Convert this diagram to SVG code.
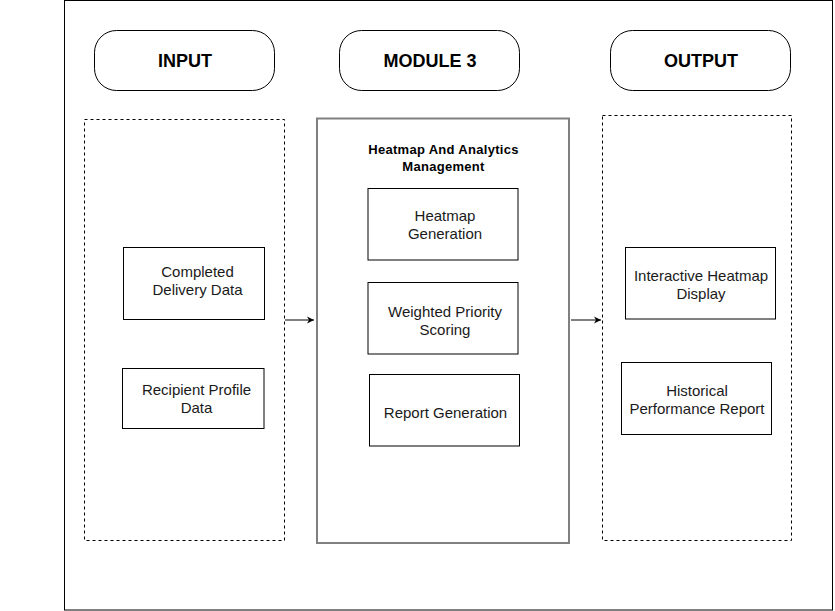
<svg xmlns="http://www.w3.org/2000/svg" width="835" height="611" viewBox="0 0 835 611">
<style>
.hdr{fill:#fff;stroke:#000;stroke-width:1}
.box{fill:#fff;stroke:#000;stroke-width:1}
.dash{fill:none;stroke:#000;stroke-width:1;stroke-dasharray:3 3}
.ht{font-family:"Liberation Sans",Arial,sans-serif;font-size:18px;font-weight:bold;text-anchor:middle;fill:#000}
.t{font-family:"Liberation Sans",Arial,sans-serif;font-size:15px;text-anchor:middle;fill:#1a1a1a}
.bt{font-family:"Liberation Sans",Arial,sans-serif;font-size:13px;letter-spacing:0.3px;font-weight:bold;text-anchor:middle;fill:#000}
.edge{fill:none;stroke:#000;stroke-width:1}
</style>
<defs>
<marker id="arr" markerWidth="8" markerHeight="8" refX="7" refY="4" orient="auto" markerUnits="userSpaceOnUse">
<path d="M0,0.5 L7,4 L0,7.5 L2,4 Z" fill="#000"/>
</marker>
</defs>
<rect width="835" height="611" fill="#fff"/>
<rect id="frame" x="64.5" y="0.5" width="768" height="609.5" fill="none" stroke="#000" stroke-width="1"/>
<g id="input-header"><rect class="hdr" x="94.5" y="30.5" width="180" height="60" rx="22"/><text class="ht" x="185" y="67">INPUT</text></g>
<g id="module-header"><rect class="hdr" x="339.5" y="30.5" width="180" height="60" rx="22"/><text class="ht" x="430" y="67">MODULE 3</text></g>
<g id="output-header"><rect class="hdr" x="610.5" y="30.5" width="180" height="60" rx="22"/><text class="ht" x="701" y="67">OUTPUT</text></g>
<g id="input-group"><rect class="dash" x="84.5" y="119.5" width="200" height="421"/></g>
<g id="module-group"><rect x="317" y="118.5" width="252" height="424.5" fill="#fff" stroke="#808080" stroke-width="2"/>
<text class="bt" x="443.5" y="154">Heatmap And Analytics</text><text class="bt" x="443.5" y="171">Management</text></g>
<g id="output-group"><rect class="dash" x="602.5" y="115.5" width="189" height="425"/></g>
<g id="completed-delivery"><rect class="box" x="123.5" y="247.5" width="141" height="72"/><text class="t" x="197.5" y="277">Completed</text><text class="t" x="197.5" y="295">Delivery Data</text></g>
<g id="recipient-profile"><rect class="box" x="122.5" y="368.5" width="141.5" height="60"/><text class="t" x="196.5" y="395">Recipient Profile</text><text class="t" x="196.5" y="413">Data</text></g>
<g id="heatmap-generation"><rect class="box" x="368" y="188.5" width="150" height="71.5"/><text class="t" x="445" y="221">Heatmap</text><text class="t" x="445" y="239">Generation</text></g>
<g id="weighted-priority"><rect class="box" x="368" y="282.5" width="150" height="71.5"/><text class="t" x="445" y="317">Weighted Priority</text><text class="t" x="445" y="335">Scoring</text></g>
<g id="report-generation"><rect class="box" x="369.5" y="374.5" width="150" height="71.5"/><text class="t" x="445.5" y="418">Report Generation</text></g>
<g id="interactive-heatmap"><rect class="box" x="625.5" y="247.5" width="150" height="71.5"/><text class="t" x="701" y="281">Interactive Heatmap</text><text class="t" x="701" y="299">Display</text></g>
<g id="historical-report"><rect class="box" x="621.5" y="362.5" width="150" height="72"/><text class="t" x="697" y="396">Historical</text><text class="t" x="697" y="414">Performance Report</text></g>
<g id="connectors">
<line class="edge" x1="285" y1="320" x2="314" y2="320" marker-end="url(#arr)"/>
<line class="edge" x1="571" y1="320" x2="601" y2="320" marker-end="url(#arr)"/>
</g>
</svg>
